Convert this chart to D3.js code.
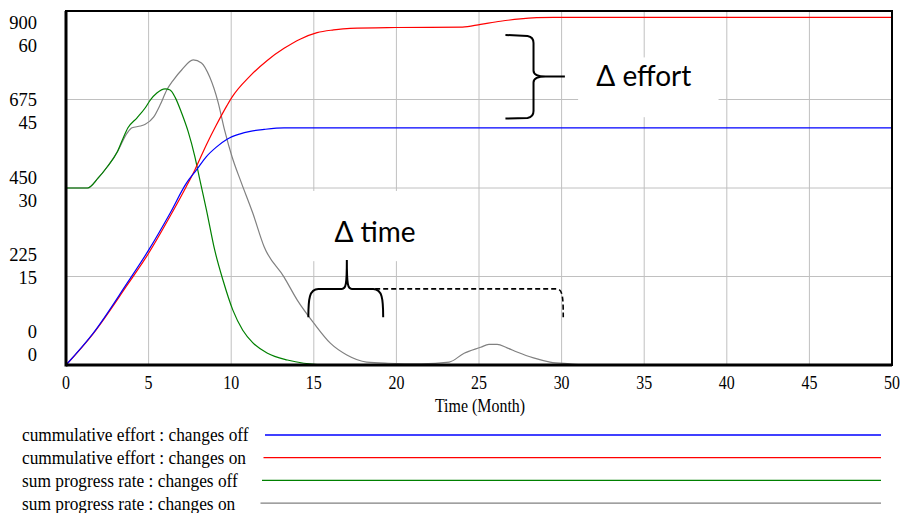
<!DOCTYPE html>
<html lang="en">

<head>
  <meta charset="UTF-8">
  <title>effort and progress rate</title>
  <script src="https://d3js.org/d3.v7.min.js"></script>
  <style>
    body { margin: 0; background: #fff; }
    text { font-family: "Liberation Serif", "Times New Roman", serif; fill: #000; }
    .note { font-family: Lato, "Open Sans", sans-serif; }
  </style>
</head>

<body>
  <svg id="chart" width="903" height="513"></svg>

  <script>
    // ---- data ----
    const effortTicks = [0, 225, 450, 675, 900];
    const rateTicks = [0, 15, 30, 45, 60];
    const timeTicks = [0, 5, 10, 15, 20, 25, 30, 35, 40, 45, 50];

    // cummulative effort : changes off
    const effortOffT = [0, 1.65, 3.7, 5, 6.3, 7.3, 7.9, 8.5, 9.1, 9.75, 10.5, 11.15, 12, 13.2, 50];
    const effortOffV = [0, 81, 208, 292, 386, 463, 496, 530, 554, 574, 587, 594, 599, 603, 603];
    // cummulative effort : changes on
    const effortOnT = [0, 1.65, 3.7, 5, 6.3, 7.3, 7.8, 8.5, 9.1, 9.75, 10.05, 11.15, 12.2, 13.2, 14.2, 15.2, 16.2, 17.2, 20, 24, 25.1, 26.3, 27.5, 28.5, 29.5, 50];
    const effortOnV = [0, 80, 203, 284, 378, 455, 496, 560, 610, 660, 681, 735, 775, 805, 829, 845, 852, 856, 858, 859, 866, 874, 880, 883, 884, 884];
    // sum progress rate : changes off
    const rateOffT = [0, 1.3, 1.95, 2.5, 3.1, 3.45, 3.75, 4.3, 4.8, 5.1, 5.5, 6, 6.3, 6.6, 7, 7.4, 7.8, 8.1, 8.5, 9, 9.5, 10.1, 10.7, 11.3, 12.2, 13.4, 14.4, 16, 50];
    const rateOffV = [30, 30, 31.7, 33.6, 36.1, 38.4, 40.2, 41.9, 43.6, 44.9, 46.1, 46.8, 46.6, 45.4, 42.7, 39.5, 35.3, 31.4, 26.3, 19.5, 14.4, 9.3, 5.9, 3.8, 2, 0.85, 0.3, 0, 0];
    // sum progress rate : changes on
    const rateOnT = [0, 1.3, 1.95, 2.5, 3.1, 3.7, 4, 4.5, 4.8, 5.3, 5.7, 6.1, 6.5, 7, 7.7, 8.2, 8.7, 9.2, 9.6, 10.05, 10.6, 11.3, 12, 13.2, 14, 15, 16, 17, 18.2, 19.5, 21.5, 23.2, 24.1, 25.1, 25.6, 26.1, 26.7, 27.3, 28.3, 29.3, 30.5, 31.5, 50];
    const rateOnV = [30, 30, 31.7, 33.6, 36.1, 39.3, 40.2, 40.5, 40.8, 42, 44.1, 46.6, 48.3, 50, 51.7, 51.2, 48.8, 44.6, 39.8, 35.3, 31, 25.8, 20, 14.9, 11, 7.1, 3.7, 1.7, 0.5, 0.3, 0.2, 0.5, 2, 3, 3.5, 3.5, 2.9, 2.2, 1.2, 0.5, 0.2, 0, 0];

    const seriesNames = ["cummulative effort : changes off", "cummulative effort : changes on",
      "sum progress rate : changes off", "sum progress rate : changes on"];
    const seriesColors = ["#0000ff", "#ff0000", "#008000", "#808080"];

    // ---- layout ----
    const svg = d3.select("#chart");
    const margin = { top: 11, right: 11, bottom: 148, left: 66 };
    const width = +svg.attr("width");
    const height = +svg.attr("height");
    const plotBottom = height - margin.bottom;
    const plotRight = width - margin.right;

    const x = d3.scaleLinear().domain([0, 50]).range([margin.left, plotRight]);
    const yEffort = d3.scaleLinear().domain([0, 900]).range([plotBottom, margin.top]);
    const yRate = d3.scaleLinear().domain([0, 60]).range([plotBottom, margin.top]);
    // vensim packs the paired tick labels closer together than the grid
    const yLabel = d3.scaleLinear().domain([0, 900]).range([plotBottom - 33, margin.top + 12]);

    // grid
    svg.append("g").selectAll("line").data(timeTicks.slice(1, -1)).join("line")
      .attr("x1", d => x(d)).attr("x2", d => x(d))
      .attr("y1", margin.top).attr("y2", plotBottom)
      .attr("stroke", "#c0c0c0").attr("stroke-width", 1);
    svg.append("g").selectAll("line").data(effortTicks.slice(1, -1)).join("line")
      .attr("x1", margin.left).attr("x2", plotRight)
      .attr("y1", d => yEffort(d)).attr("y2", d => yEffort(d))
      .attr("stroke", "#c0c0c0").attr("stroke-width", 1);

    // white text boxes over the grid
    svg.append("rect")
      .attr("x", x(31)).attr("y", yEffort(782))
      .attr("width", x(39.5) - x(31)).attr("height", yEffort(630) - yEffort(782))
      .attr("fill", "#fff");
    svg.append("rect")
      .attr("x", x(14.95)).attr("y", yRate(29.5))
      .attr("width", x(21.6) - x(14.95)).attr("height", yRate(17.6) - yRate(29.5))
      .attr("fill", "#fff");

    // lines
    const series = [
      { t: effortOffT, v: effortOffV, y: yEffort },
      { t: effortOnT, v: effortOnV, y: yEffort },
      { t: rateOffT, v: rateOffV, y: yRate },
      { t: rateOnT, v: rateOnV, y: yRate }
    ];
    // draw gray first so the others sit on top
    [3, 2, 1, 0].forEach(i => {
      const s = series[i];
      const pts = s.t.map((t, j) => [t, s.v[j]]);
      const line = d3.line().x(d => x(d[0])).y(d => s.y(d[1])).curve(d3.curveMonotoneX);
      svg.append("path").datum(pts)
        .attr("d", line)
        .attr("fill", "none")
        .attr("stroke", seriesColors[i])
        .attr("stroke-width", 1.2);
    });

    // frame
    svg.append("rect")
      .attr("x", margin.left).attr("y", margin.top)
      .attr("width", plotRight - margin.left).attr("height", plotBottom - margin.top)
      .attr("fill", "none").attr("stroke", "#000").attr("stroke-width", 2);
    svg.append("line")
      .attr("x1", margin.left).attr("x2", margin.left)
      .attr("y1", margin.top).attr("y2", plotBottom + 1.5)
      .attr("stroke", "#000").attr("stroke-width", 3);
    svg.append("line")
      .attr("x1", margin.left).attr("x2", plotRight)
      .attr("y1", plotBottom).attr("y2", plotBottom)
      .attr("stroke", "#000").attr("stroke-width", 3);

    // y labels (two scales stacked)
    const yLab = svg.append("g").attr("font-size", 18.5).attr("text-anchor", "end");
    yLab.selectAll("text.e").data(effortTicks).join("text").attr("class", "e")
      .attr("x", margin.left - 29).attr("y", d => yLabel(d)).attr("dy", "0.33em")
      .text(d => d);
    yLab.selectAll("text.r").data(rateTicks).join("text").attr("class", "r")
      .attr("x", margin.left - 29).attr("y", d => yLabel(d * 15) + 23).attr("dy", "0.33em")
      .text(d => d);

    // x labels
    const xLab = svg.append("g").attr("font-size", 19).attr("text-anchor", "middle");
    xLab.selectAll("text").data(timeTicks).join("text")
      .attr("transform", d => `translate(${x(d)},${plotBottom + 24}) scale(0.84,1)`)
      .text(d => d);
    svg.append("text")
      .attr("transform", `translate(${(margin.left + plotRight) / 2 + 1},${plotBottom + 47}) scale(0.84,1)`)
      .attr("text-anchor", "middle").attr("font-size", 19)
      .text("Time (Month)");

    // legend
    const legend = svg.append("g").attr("transform", `translate(22,${plotBottom + 70})`);
    seriesNames.forEach((name, i) => {
      const row = legend.append("g").attr("transform", `translate(0,${i * 22.7})`);
      row.append("text").attr("y", 0).attr("dy", "0.33em")
        .attr("transform", "scale(0.89,1)")
        .attr("font-size", 19.5)
        .text(name);
      row.append("line")
        .attr("x1", 243 - i * 1.5).attr("x2", 859)
        .attr("y1", 0).attr("y2", 0)
        .attr("stroke", seriesColors[i]).attr("stroke-width", 1.3);
    });

    // annotations
    const note = svg.append("g");
    // brace for delta effort
    const bx = x(26.6), by0 = yEffort(839), by1 = yEffort(628), bs = x(28.3), bm = (by0 + by1) / 2;
    note.append("path")
      .attr("d", `M${bx},${by0} L${bs - 6},${by0 + 1} Q${bs},${by0 + 2} ${bs},${by0 + 8} L${bs},${bm - 6} Q${bs},${bm} ${bs + 12},${bm} L${x(30.2)},${bm} ` +
        `M${bs + 12},${bm} Q${bs},${bm} ${bs},${bm + 6} L${bs},${by1 - 7} Q${bs},${by1 - 1} ${bs - 6},${by1} L${bx},${by1 + 0.5}`)
      .attr("fill", "none").attr("stroke", "#000").attr("stroke-width", 2);
    note.append("text").attr("class", "note")
      .attr("x", x(32.1)).attr("y", yEffort(735) + 10)
      .attr("font-size", 28)
      .text("Δ effort");

    // brace for delta time
    const tx0 = x(14.67), tx1 = x(19.2), tm = x(17), ty = yRate(12.9), tEnd = yRate(8.1), tTip = yRate(17.8);
    note.append("path")
      .attr("d", `M${tx0},${tEnd} C${tx0},${ty + 10} ${tx0 + 1},${ty} ${tx0 + 10},${ty} L${tm - 5},${ty} ` +
        `C${tm - 1},${ty} ${tm},${ty - 4} ${tm},${tTip} C${tm},${ty - 4} ${tm + 1},${ty} ${tm + 5},${ty} ` +
        `L${tx1 - 10},${ty} C${tx1 - 1},${ty} ${tx1},${ty + 10} ${tx1},${tEnd}`)
      .attr("fill", "none").attr("stroke", "#000").attr("stroke-width", 2);
    const dx1 = x(30.1);
    note.append("path")
      .attr("d", `M${tx1 - 8},${ty} L${dx1 - 7},${ty} C${dx1 - 1},${ty} ${dx1},${ty + 6} ${dx1},${tEnd}`)
      .attr("fill", "none").attr("stroke", "#000").attr("stroke-width", 1.6)
      .attr("stroke-dasharray", "5,3");
    note.append("text").attr("class", "note")
      .attr("x", x(16.25)).attr("y", yRate(20.9))
      .attr("font-size", 28)
      .text("Δ time");
  </script>

</body>

</html>
